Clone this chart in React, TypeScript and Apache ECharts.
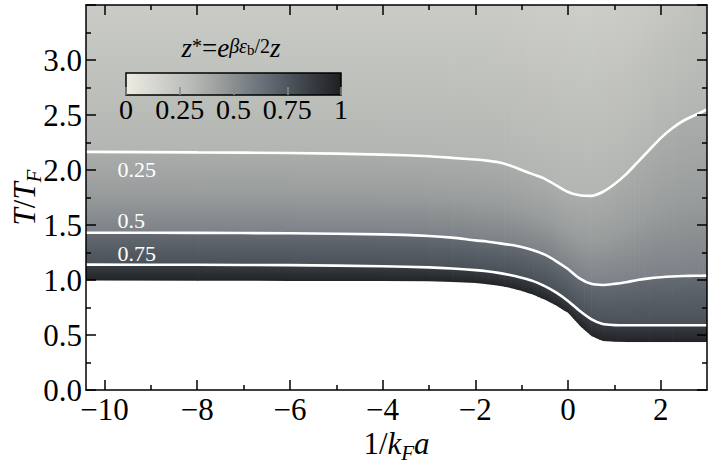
import React, { useEffect, useRef } from "react";
import * as echarts from "echarts";

const FONT = "'Liberation Serif', 'DejaVu Serif', serif";

// sample positions along 1/(k_F a)
const xs = [-10.4, -8, -6, -4, -3, -2.5, -2, -1.75, -1.5, -1.25, -1, -0.75, -0.5, -0.25, 0, 0.25, 0.5, 0.75, 1, 1.25, 1.5, 1.75, 2, 2.25, 2.5, 2.75, 3];
// lower edge of the shaded region (T/T_F)
const boundaryT = [0.995, 0.994, 0.992, 0.99, 0.988, 0.982, 0.972, 0.962, 0.948, 0.928, 0.9, 0.865, 0.82, 0.765, 0.7, 0.585, 0.49, 0.445, 0.438, 0.436, 0.436, 0.436, 0.436, 0.436, 0.436, 0.436, 0.436];
// contour z* = 0.75
const c075T = [1.14, 1.138, 1.135, 1.125, 1.115, 1.105, 1.09, 1.08, 1.065, 1.045, 1.02, 0.99, 0.945, 0.885, 0.81, 0.72, 0.645, 0.6, 0.59, 0.588, 0.588, 0.588, 0.588, 0.588, 0.588, 0.588, 0.588];
// contour z* = 0.5
const c050T = [1.43, 1.428, 1.425, 1.415, 1.4, 1.385, 1.36, 1.35, 1.335, 1.32, 1.3, 1.27, 1.23, 1.17, 1.1, 1.015, 0.965, 0.955, 0.965, 0.98, 1.0, 1.015, 1.025, 1.032, 1.036, 1.038, 1.04];
// contour z* = 0.25
const c025T = [2.165, 2.16, 2.155, 2.14, 2.125, 2.11, 2.095, 2.085, 2.07, 2.04, 2.0, 1.96, 1.92, 1.86, 1.8, 1.77, 1.765, 1.8, 1.87, 1.96, 2.07, 2.18, 2.29, 2.38, 2.45, 2.5, 2.55];
// shade at the top of the frame (T/T_F = 3.5)
const topShade = [0.2, 0.2, 0.2, 0.2, 0.2, 0.2, 0.2, 0.2, 0.2, 0.198, 0.195, 0.192, 0.19, 0.188, 0.186, 0.185, 0.185, 0.187, 0.19, 0.197, 0.205, 0.215, 0.225, 0.236, 0.247, 0.258, 0.27];
// shade at [bottom, middle, top] of each band between curves (top of last band: topShade)
const bandShades = [[0.98, 0.92, 0.86], [0.78, 0.72, 0.66], [0.56, 0.44, 0.37], [0.33, -1, -1]];
const T_MAX = 3.5;
const X_MIN = -10.4;
const X_MAX = 3;

const contourLevels = ["0.75", "0.5", "0.25"];
const contourLabelT = [1.241, 1.541, 2.005];
const contourLabelX = -9.72;

const xMajorTicks = [-10, -8, -6, -4, -2, 0, 2];
const xMinorTicks = [-9, -7, -5, -3, -1, 1];
const colorbarTicks = [0, 0.25, 0.5, 0.75, 1];

const cmapStops: [number, string][] = [
  [0, "#ecece1"], [0.1, "#dcdcd5"], [0.2, "#cacbc6"], [0.3, "#b9bbb7"], [0.4, "#a3a6a5"],
  [0.5, "#8a8f91"], [0.6, "#717880"], [0.7, "#5b626a"], [0.8, "#454b52"], [0.9, "#313439"], [1, "#1e1f21"],
];

function hexRgb(h: string) {
  return [parseInt(h.slice(1, 3), 16), parseInt(h.slice(3, 5), 16), parseInt(h.slice(5, 7), 16)];
}
function cmap(s: number) {
  const v = Math.max(0, Math.min(1, s));
  for (let i = 0; i < cmapStops.length - 1; i++) {
    const [o0, c0] = cmapStops[i];
    const [o1, c1] = cmapStops[i + 1];
    if (v <= o1) {
      const t = (v - o0) / (o1 - o0);
      const a = hexRgb(c0), b = hexRgb(c1);
      return `rgb(${Math.round(a[0] + (b[0] - a[0]) * t)},${Math.round(a[1] + (b[1] - a[1]) * t)},${Math.round(a[2] + (b[2] - a[2]) * t)})`;
    }
  }
  return cmapStops[cmapStops.length - 1][1];
}

const curves = [boundaryT, c075T, c050T, c025T];

// shade at fraction o (0 = top of band, 1 = bottom of band)
function bandShadeAt(sBot: number, sMid: number, sTop: number, o: number) {
  return o <= 0.5 ? sTop + (sMid - sTop) * (o / 0.5) : sMid + (sBot - sMid) * ((o - 0.5) / 0.5);
}

function renderField(params: any, api: any) {
  const b = api.value(0);
  const lower = curves[b];
  const upper = b < 3 ? curves[b + 1] : xs.map(() => T_MAX);
  const sBot = bandShades[b][0];
  const children: any[] = [];
  for (let i = 0; i < xs.length - 1; i++) {
    const a0 = api.coord([xs[i], lower[i]]);
    const a1 = api.coord([xs[i + 1], lower[i + 1]]);
    const b0 = api.coord([xs[i], upper[i]]);
    const b1 = api.coord([xs[i + 1], upper[i + 1]]);
    const dv = Math.max(Math.abs(a1[1] - a0[1]), Math.abs(b1[1] - b0[1]));
    const n = Math.max(1, Math.ceil(dv / 2));
    for (let j = 0; j < n; j++) {
      const t0 = j / n, t1 = (j + 1) / n, tm = (t0 + t1) / 2;
      const X0 = a0[0] + (a1[0] - a0[0]) * t0;
      const X1 = a0[0] + (a1[0] - a0[0]) * t1;
      const L0 = a0[1] + (a1[1] - a0[1]) * t0;
      const L1 = a0[1] + (a1[1] - a0[1]) * t1;
      const U0 = b0[1] + (b1[1] - b0[1]) * t0;
      const U1 = b0[1] + (b1[1] - b0[1]) * t1;
      const sTop = b < 3 ? bandShades[b][2] : topShade[i] + (topShade[i + 1] - topShade[i]) * tm;
      const sMid = b < 3 ? bandShades[b][1] : (sTop + sBot) / 2;
      const yTop = (U0 + U1) / 2, yBot = (L0 + L1) / 2;
      const stops = [0, 0.25, 0.5, 0.75, 1].map((o) => ({ offset: o, color: cmap(bandShadeAt(sBot, sMid, sTop, o)) }));
      const ov = i < xs.length - 2 || j < n - 1 ? 0.7 : 0;
      children.push({
        type: "polygon",
        silent: true,
        shape: { points: [[X0, U0], [X1 + ov, U1], [X1 + ov, L1], [X0, L0]] },
        style: { fill: new echarts.graphic.LinearGradient(0, yTop, 0, yBot, stops, true), stroke: null },
      });
    }
  }
  return { type: "group", children };
}

function renderColorbar(params: any, api: any) {
  const p0 = api.coord([0, 1]);
  const p1 = api.coord([1, 0]);
  const stops = cmapStops.map(([o, c]) => ({ offset: o, color: c }));
  return {
    type: "rect",
    shape: { x: p0[0], y: p0[1], width: p1[0] - p0[0], height: p1[1] - p0[1] },
    style: { fill: new echarts.graphic.LinearGradient(0, 0, 1, 0, stops), stroke: "#000", lineWidth: 1.5 },
  };
}

const fmtX = (v: number) => (v < 0 ? "\u2212" + Math.abs(v) : String(v));

const lineBlack = { color: "#000", width: 1.5 };

function buildOption(): any {
  const mainX = { type: "value", min: X_MIN, max: X_MAX, splitLine: { show: false }, z: 10 };
  const mainY = { type: "value", min: 0, max: T_MAX, splitLine: { show: false }, z: 10 };
  const nameRich = {
    n: { fontSize: 31, fontFamily: FONT, color: "#000", lineHeight: 40, verticalAlign: "top" },
    i: { fontSize: 31, fontFamily: FONT, fontStyle: "italic", color: "#000", lineHeight: 40, verticalAlign: "top" },
    s: { fontSize: 21, fontFamily: FONT, fontStyle: "italic", color: "#000", lineHeight: 40, verticalAlign: "top", padding: [14, 0, 0, 0] },
  };
  return {
    animation: false,
    backgroundColor: "#ffffff",
    textStyle: { fontFamily: FONT },
    grid: [
      { left: 86, top: 5, width: 621, height: 385, containLabel: false, outerBoundsMode: "none" },
      { left: 86, top: 5, width: 621, height: 385, containLabel: false, outerBoundsMode: "none" },
      { left: 126, top: 73, width: 215, height: 22, containLabel: false, outerBoundsMode: "none" },
    ],
    xAxis: [
      {
        ...mainX, gridIndex: 0, position: "bottom",
        axisLine: { show: true, onZero: false, lineStyle: lineBlack },
        axisTick: { show: true, inside: true, length: 10, customValues: xMajorTicks, lineStyle: lineBlack },
        axisLabel: { show: true, customValues: xMajorTicks, margin: 4, fontSize: 31, color: "#000", fontFamily: FONT, formatter: fmtX },
        name: "{n|1/}{i|k}{s|F}{i|a}", nameLocation: "middle", nameGap: 38, nameMoveOverlap: false,
        nameTextStyle: { rich: nameRich },
      },
      {
        ...mainX, gridIndex: 0, position: "top",
        axisLine: { show: true, onZero: false, lineStyle: lineBlack },
        axisTick: { show: true, inside: true, length: 10, customValues: xMajorTicks, lineStyle: lineBlack },
        axisLabel: { show: false },
      },
      {
        ...mainX, gridIndex: 1, position: "bottom",
        axisLine: { show: false, onZero: false },
        axisTick: { show: true, inside: true, length: 5, customValues: xMinorTicks, lineStyle: lineBlack },
        axisLabel: { show: false },
      },
      {
        ...mainX, gridIndex: 1, position: "top",
        axisLine: { show: false, onZero: false },
        axisTick: { show: true, inside: true, length: 5, customValues: xMinorTicks, lineStyle: lineBlack },
        axisLabel: { show: false },
      },
      {
        type: "value", gridIndex: 2, position: "bottom", min: 0, max: 1, z: 10,
        splitLine: { show: false },
        axisLine: { show: false, onZero: false },
        axisTick: { show: true, inside: true, length: 8, customValues: colorbarTicks, lineStyle: { color: "#8a8a8a", width: 1.5 } },
        axisLabel: { show: true, customValues: colorbarTicks, margin: 0, fontSize: 28, color: "#000", fontFamily: FONT, formatter: (v: number) => String(v) },
      },
    ],
    yAxis: [
      {
        ...mainY, gridIndex: 0, position: "left", interval: 0.5,
        axisLine: { show: true, onZero: false, lineStyle: lineBlack },
        axisTick: { show: true, inside: true, length: 10, lineStyle: lineBlack },
        minorTick: { show: true, splitNumber: 2, length: 5, lineStyle: lineBlack },
        axisLabel: { show: true, margin: 4, fontSize: 31, color: "#000", fontFamily: FONT, showMaxLabel: false, formatter: (v: number) => v.toFixed(1) },
        name: "{i|T}{n|/}{i|T}{s|F}", nameLocation: "middle", nameRotate: 90, nameGap: 37, nameMoveOverlap: false,
        nameTextStyle: { rich: nameRich },
      },
      {
        ...mainY, gridIndex: 0, position: "right", interval: 0.5,
        axisLine: { show: true, onZero: false, lineStyle: lineBlack },
        axisTick: { show: true, inside: true, length: 10, lineStyle: lineBlack },
        minorTick: { show: true, splitNumber: 2, length: 5, lineStyle: lineBlack },
        axisLabel: { show: false },
      },
      { type: "value", gridIndex: 1, min: 0, max: T_MAX, show: false },
      { type: "value", gridIndex: 2, min: 0, max: 1, show: false },
    ],
    series: [
      {
        type: "custom", xAxisIndex: 0, yAxisIndex: 0, z: 1, silent: true, clip: true,
        renderItem: renderField,
        data: [[0, 0], [1, 0], [2, 0], [3, 0]],
      },
      ...[c075T, c050T, c025T].map((arr, k) => ({
        type: "line", xAxisIndex: 0, yAxisIndex: 0, z: 3, silent: true,
        symbol: "none", smooth: 0.25,
        lineStyle: { color: "#ffffff", width: 2.6 },
        data: xs.map((x, i) => [x, arr[i]]),
        markPoint: {
          silent: true, symbol: "circle", symbolSize: 0,
          itemStyle: { color: "transparent" },
          label: { show: true, position: "right", distance: 0, color: "#ffffff", fontSize: 22, fontFamily: FONT, formatter: () => contourLevels[k] },
          data: [{ coord: [contourLabelX, contourLabelT[k]] }],
        },
      })),
      {
        type: "custom", xAxisIndex: 4, yAxisIndex: 3, z: 5, silent: true,
        renderItem: renderColorbar,
        data: [[0.5, 0.5]],
      },
    ],
    graphic: [
      {
        type: "text", x: 231, y: 50, z: 20, silent: true,
        style: {
          text: "{i|z}{p|*}{n|=}{i|e}{q|\u03b2\u03b5}{r|b}{p|/2}{i|z}",
          align: "center", verticalAlign: "middle", fill: "#000",
          fontFamily: FONT, fontSize: 27,
          rich: {
            i: { fontSize: 27, fontFamily: FONT, fontStyle: "italic", fill: "#000", lineHeight: 31, verticalAlign: "top" },
            n: { fontSize: 27, fontFamily: FONT, fill: "#000", lineHeight: 31, verticalAlign: "top" },
            p: { fontSize: 20, fontFamily: FONT, fill: "#000", lineHeight: 31, verticalAlign: "top", padding: [1, 0, 0, 0] },
            q: { fontSize: 20, fontFamily: FONT, fontStyle: "italic", fill: "#000", lineHeight: 31, verticalAlign: "top", padding: [1, 0, 0, 0] },
            r: { fontSize: 15, fontFamily: FONT, fill: "#000", lineHeight: 31, verticalAlign: "top", padding: [8, 0, 0, 0] },
          },
        },
      },
    ],
  };
}

export default function App() {
  const ref = useRef<HTMLDivElement>(null);
  useEffect(() => {
    if (!ref.current) return;
    const chart = echarts.init(ref.current, undefined, { renderer: "svg" });
    chart.setOption(buildOption());
    return () => chart.dispose();
  }, []);
  return (
    <div
      ref={ref}
      style={{ position: "fixed", left: 0, top: 0, width: 713, height: 469, background: "#fff" }}
    />
  );
}
